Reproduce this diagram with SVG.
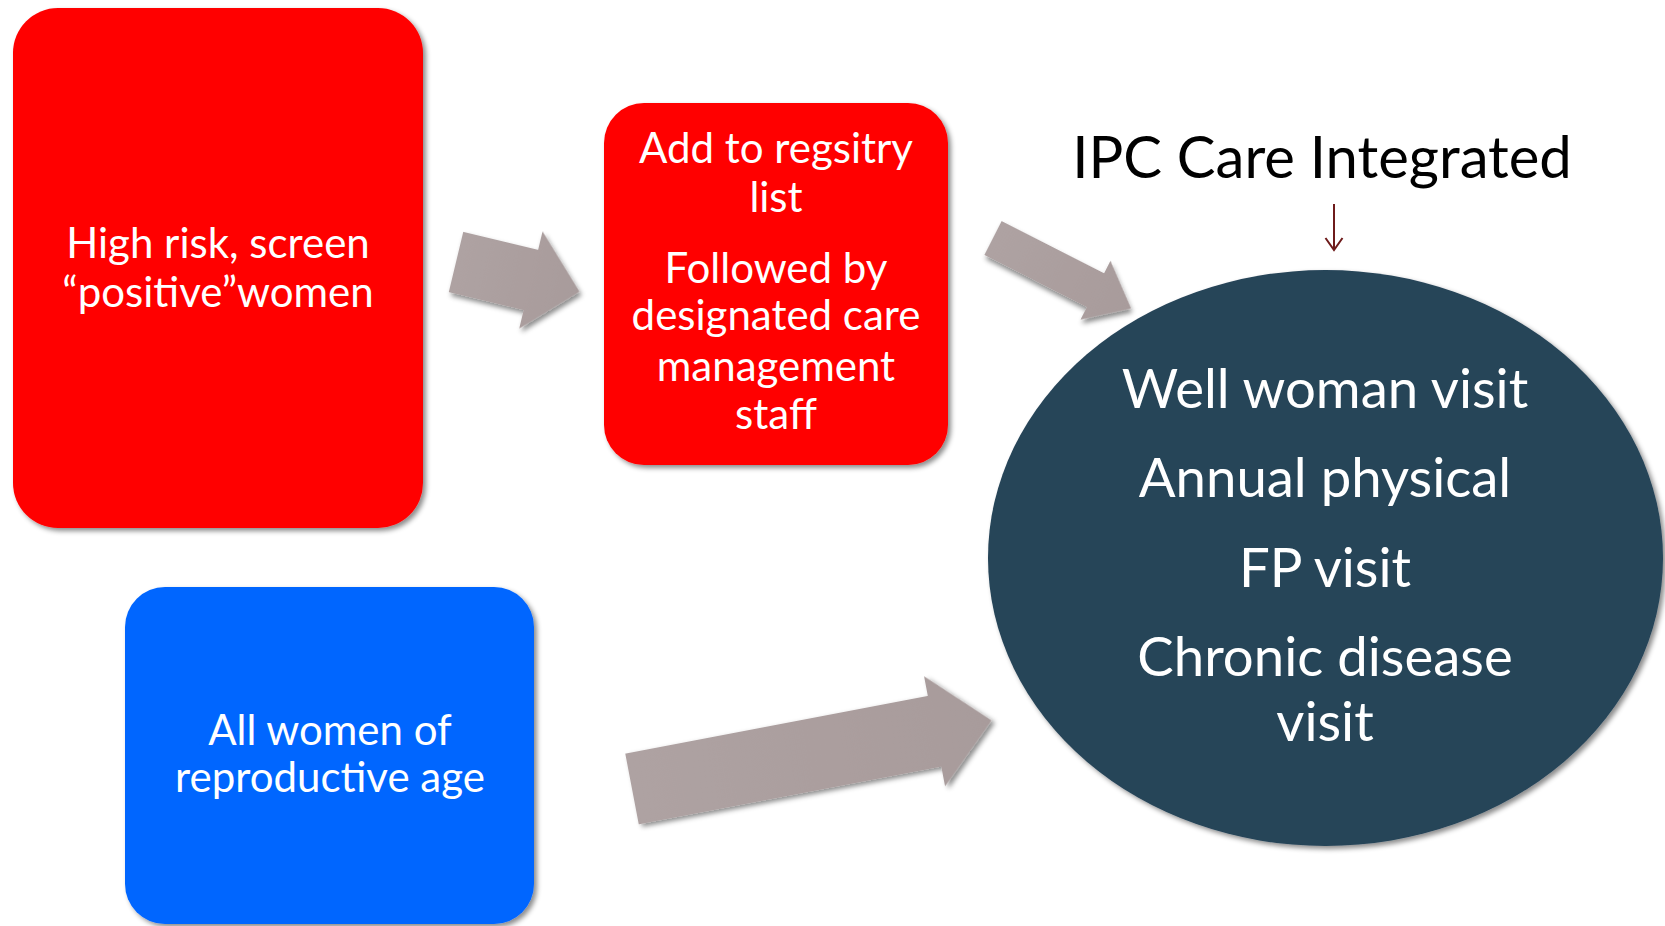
<svg xmlns="http://www.w3.org/2000/svg" width="1665" height="926" viewBox="0 0 1665 926">
  <defs>
    <filter id="sh" x="-10%" y="-10%" width="125%" height="125%">
      <feDropShadow dx="3" dy="3" stdDeviation="2.5" flood-color="#000" flood-opacity="0.45"/>
    </filter>
    <linearGradient id="ag" x1="0" y1="0" x2="1" y2="0">
      <stop offset="0" stop-color="#AEA2A2"/>
      <stop offset="1" stop-color="#A89B9B"/>
    </linearGradient>
  </defs>
  <style>
    .lbl { font-family: Lato, "Liberation Sans", sans-serif; fill: #FFFFFF; text-anchor: middle; }
    .box { font-size: 42px; }
    .ell { font-size: 54.5px; }
    .red { fill: #FF0000; }
    .blue { fill: #0066FF; }
    .arrow { fill: url(#ag); filter: url(#sh); }
  </style>
  <rect width="1665" height="926" fill="#FFFFFF"/>

  <g id="connectors">
    <polygon class="arrow" points="0,-31 77,-31 77,-50 127,0 77,50 77,31 0,31" transform="translate(456,262) rotate(13.5)"/>
    <polygon class="arrow" points="0,-19 115,-19 115,-33 155,0 115,33 115,19 0,19" transform="translate(993,238) rotate(27)"/>
    <polygon class="arrow" points="0,-36 308,-36 308,-56 366,0 308,56 308,36 0,36" transform="translate(632,789) rotate(-10.8)"/>
    <g id="ipc-arrow" stroke="#6E1B1B" stroke-width="2" fill="none">
      <line x1="1334" y1="204" x2="1334" y2="250"/>
      <polyline points="1325.5,238 1334,250 1342.5,238"/>
    </g>
  </g>

  <g id="node-high-risk">
    <rect class="red" x="13" y="8" width="410" height="520" rx="45" ry="45" filter="url(#sh)"/>
    <text class="lbl box" x="218" y="258">High risk, screen</text>
    <text class="lbl box" x="218" y="307">“positive”women</text>
  </g>

  <g id="node-registry">
    <rect class="red" x="604" y="103" width="344" height="362" rx="40" ry="40" filter="url(#sh)"/>
    <text class="lbl box" x="776" y="163">Add to regsitry</text>
    <text class="lbl box" x="776" y="212">list</text>
    <text class="lbl box" x="776" y="283">Followed by</text>
    <text class="lbl box" x="776" y="330">designated care</text>
    <text class="lbl box" x="776" y="381">management</text>
    <text class="lbl box" x="776" y="429">staff</text>
  </g>

  <g id="node-all-women">
    <rect class="blue" x="125" y="587" width="409" height="337" rx="40" ry="40" filter="url(#sh)"/>
    <text class="lbl box" x="330" y="745">All women of</text>
    <text class="lbl box" x="330" y="792">reproductive age</text>
  </g>

  <g id="node-ipc-label">
    <text x="1322" y="178" font-family="Lato, 'Liberation Sans', sans-serif" font-size="58" fill="#000000" text-anchor="middle">IPC Care Integrated</text>
  </g>

  <g id="node-visits">
    <ellipse cx="1325.5" cy="558" rx="337.5" ry="288" fill="#264458" filter="url(#sh)"/>
    <text class="lbl ell" x="1325" y="408">Well woman visit</text>
    <text class="lbl ell" x="1325" y="497">Annual physical</text>
    <text class="lbl ell" x="1325" y="587">FP visit</text>
    <text class="lbl ell" x="1325" y="676">Chronic disease</text>
    <text class="lbl ell" x="1325" y="741">visit</text>
  </g>
</svg>
